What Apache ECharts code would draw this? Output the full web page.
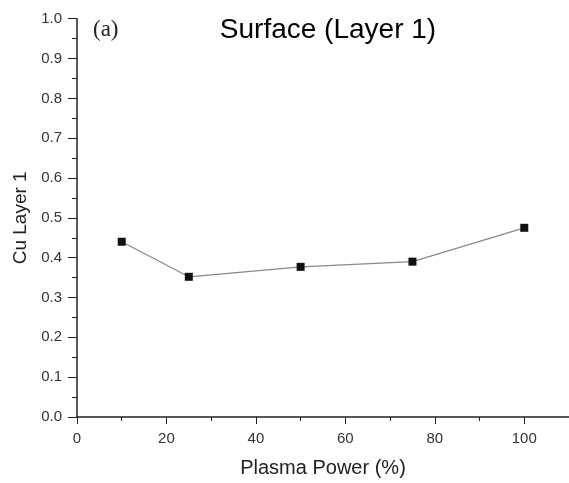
<!DOCTYPE html>
<html>
<head>
<meta charset="utf-8">
<script src="https://cdn.jsdelivr.net/npm/echarts@6/dist/echarts.min.js"></script>
<style>html,body{margin:0;padding:0;background:#fff;}#c{width:569px;height:483px;}</style>
</head>
<body>
<div id="c"></div>
<script>
var plasmaPower = [10, 25, 50, 75, 100];
var cuLayer1 = [0.44, 0.352, 0.377, 0.39, 0.475];
var chartTitle = 'Surface (Layer 1)';
var panelLabel = '(a)';
var xName = 'Plasma Power (%)';
var yName = 'Cu Layer 1';

var chart = echarts.init(document.getElementById('c'));
chart.setOption({
  backgroundColor: '#fff',
  animation: false,
  title: [
    { text: chartTitle, left: 323, top: 11, textAlign: 'center',
      textStyle: { fontFamily: 'Liberation Sans, Arial', fontSize: 28, fontWeight: 'normal', color: '#000' } },
    { text: panelLabel, left: 88, top: 13,
      textStyle: { fontFamily: 'Liberation Serif, Times New Roman', fontSize: 23, fontWeight: 'normal', color: '#222' } }
  ],
  grid: { left: 77, top: 18.7, bottom: 62.3, right: -4, containLabel: false },
  xAxis: {
    type: 'value', min: 0, max: 110, interval: 20,
    name: xName, nameLocation: 'middle', nameGap: 41,
    nameTextStyle: { fontFamily: 'Liberation Sans, Arial', fontSize: 20, color: '#222' },
    axisLine: { show: true, lineStyle: { color: '#222', width: 1.5 } },
    axisTick: { show: true, inside: false, length: 7, lineStyle: { color: '#222' } },
    minorTick: { show: true, splitNumber: 2, length: 4, lineStyle: { color: '#222' } },
    axisLabel: { fontFamily: 'Liberation Sans, Arial', fontSize: 15, color: '#333', margin: 14, showMaxLabel: false,
      formatter: function (v) { return v > 100 ? '' : String(v); } },
    splitLine: { show: false }
  },
  yAxis: {
    type: 'value', min: 0, max: 1, interval: 0.1,
    name: yName, nameLocation: 'middle', nameGap: 43, nameRotate: 90,
    nameTextStyle: { fontFamily: 'Liberation Sans, Arial', fontSize: 19, color: '#222' },
    axisLine: { show: true, lineStyle: { color: '#222', width: 1.5 } },
    axisTick: { show: true, inside: false, length: 9, lineStyle: { color: '#222' } },
    minorTick: { show: true, splitNumber: 2, length: 5, lineStyle: { color: '#222' } },
    axisLabel: { fontFamily: 'Liberation Sans, Arial', fontSize: 15, color: '#333', margin: 15,
      formatter: function (v) { return v.toFixed(1); } },
    splitLine: { show: false }
  },
  series: [{
    type: 'line',
    data: plasmaPower.map(function (x, i) { return [x, cuLayer1[i]]; }),
    symbol: 'rect', symbolSize: 8,
    itemStyle: { color: '#111' },
    lineStyle: { color: '#888', width: 1.2 }
  }]
});
</script>
</body>
</html>
